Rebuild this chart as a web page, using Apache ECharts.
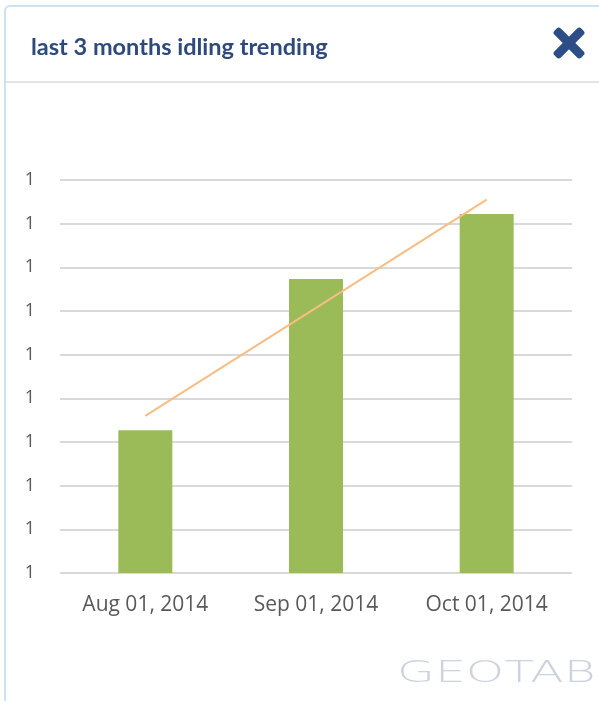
<!DOCTYPE html>
<html>
<head>
<meta charset="utf-8">
<script src="https://cdn.jsdelivr.net/npm/echarts@6/dist/echarts.min.js"></script>
<style>
  html, body { margin: 0; padding: 0; background: #fff; overflow: hidden; }
  .panel {
    position: absolute; left: 4px; top: 5px; width: 640px; height: 740px;
    border: 2px solid #cfe0f1; border-radius: 6px; box-sizing: border-box;
  }
  .panel .head { height: 74px; border-bottom: 2px solid #e4e4e4; }
  #chart { position: absolute; left: 0; top: 0; width: 599px; height: 701px; }
</style>
</head>
<body>
<div class="panel"><div class="head"></div></div>
<div id="chart"></div>
<script>
// data
var months = ['Aug 01, 2014', 'Sep 01, 2014', 'Oct 01, 2014']
var idling = [1.327, 1.673, 1.822]
var trend = [1.36, 1.607, 1.855]
var yMin = 1.0, yMax = 1.9, yStep = 0.1

var myChart = echarts.init(document.getElementById('chart'))
var option = {
  animation: false,
  title: {
    text: 'last 3 months idling trending',
    left: 26,
    top: 30,
    textStyle: {
      fontFamily: 'Lato',
      fontWeight: 'bold',
      fontSize: 23.5,
      color: '#2e4a7c'
    }
  },
  grid: {
    left: 60,
    right: 27,
    top: 180,
    bottom: 128
  },
  xAxis: {
    type: 'category',
    data: months,
    axisLine: { show: false },
    axisTick: { show: false },
    axisLabel: {
      margin: 22,
      fontFamily: 'Open Sans',
      fontSize: 21,
      color: '#595959'
    }
  },
  yAxis: {
    type: 'value',
    min: yMin,
    max: yMax,
    interval: yStep,
    axisLine: { show: false },
    axisTick: { show: false },
    axisLabel: {
      margin: 25,
      fontFamily: 'Open Sans',
      fontSize: 18,
      color: '#595959',
      formatter: function (v) { return String(Math.floor(v + 1e-9)) }
    },
    splitLine: { lineStyle: { color: '#d9d9d9', width: 2 } }
  },
  graphic: [
    // close icon
    {
      type: 'rect', x: 569, y: 43, rotation: Math.PI / 4,
      shape: { x: -19, y: -4.5, width: 38, height: 9, r: 3 },
      style: { fill: '#2c4d85' }
    },
    {
      type: 'rect', x: 569, y: 43, rotation: -Math.PI / 4,
      shape: { x: -19, y: -4.5, width: 38, height: 9, r: 3 },
      style: { fill: '#2c4d85' }
    },
    // watermark
    {
      type: 'text',
      x: 397, y: 659,
      scaleX: 1.63,
      style: {
        text: 'GEOTAB',
        fontFamily: 'DejaVu Sans',
        fontWeight: 200,
        fontSize: 30,
        fill: '#cdd3de'
      }
    }
  ],
  series: [{
    name: 'idling',
    type: 'bar',
    data: idling,
    barWidth: 54,
    itemStyle: { color: '#9bbb59' }
  }, {
    name: 'trend',
    type: 'line',
    data: trend,
    symbol: 'none',
    z: 5,
    lineStyle: { color: '#f7bd82', width: 2 }
  }]
}
myChart.setOption(option)
</script>
</body>
</html>
